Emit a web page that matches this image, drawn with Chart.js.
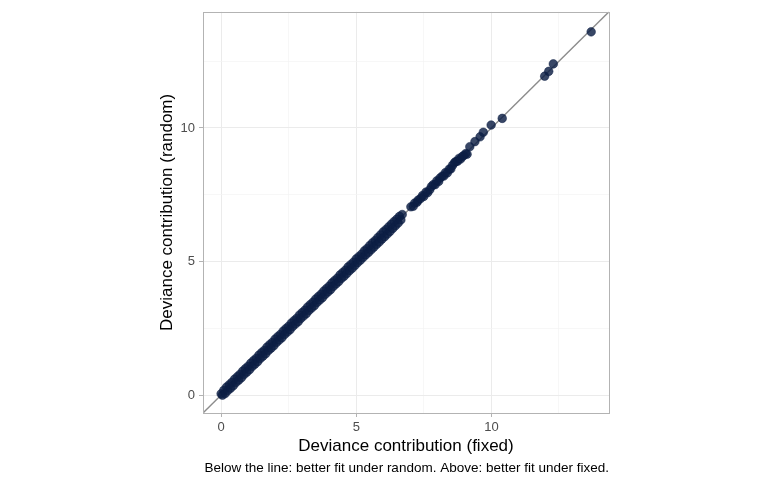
<!DOCTYPE html>
<html>
<head>
<meta charset="utf-8">
<script src="https://cdn.jsdelivr.net/npm/chart.js@4.4.1/dist/chart.umd.min.js"></script>
<style>
  html, body { margin: 0; padding: 0; background: #ffffff; }
  #wrap { width: 770px; height: 484px; }
</style>
</head>
<body>
<div id="wrap"><canvas id="c" width="770" height="484"></canvas></div>
<script>
// Deviance contribution under the fixed model (x) and random model (y)
const fixedVals = [
  0.00,0.10,0.20,0.30,0.40,0.50,0.60,0.70,0.80,0.90,1.00,1.10,1.20,1.30,1.40,1.50,1.60,1.70,1.80,1.90,
  2.00,2.10,2.20,2.30,2.40,2.50,2.60,2.70,2.80,2.90,3.00,3.10,3.20,3.30,3.40,3.50,3.60,3.70,3.80,3.90,
  4.00,4.10,4.20,4.30,4.40,4.50,4.60,4.70,4.80,4.90,5.00,5.10,5.20,5.30,5.40,5.50,5.60,5.70,5.80,5.90,
  6.00,6.10,6.20,6.30,6.40,6.50,6.60,6.70,
  0.05,0.15,0.25,0.35,0.45,0.55,0.65,0.75,0.85,0.95,1.05,1.15,1.25,1.35,1.45,1.55,1.65,1.75,1.85,1.95,
  2.05,2.15,2.25,2.35,2.45,2.55,2.65,2.75,2.85,2.95,3.05,3.15,3.25,3.35,3.45,3.55,3.65,3.75,3.85,3.95,
  4.05,4.15,4.25,4.35,4.45,4.55,4.65,4.75,4.85,4.95,5.05,5.15,5.25,5.35,5.45,5.55,5.65,5.75,5.85,5.95,
  6.05,6.15,6.25,6.35,6.45,6.55,6.65,
  7.02,7.11,7.16,7.25,7.29,7.38,7.45,7.50,7.58,7.64,7.72,7.78,7.85,7.92,7.98,8.05,8.10,8.18,8.24,8.30,
  8.37,8.44,8.50,8.56,8.63,8.68,8.75,8.80,8.86,8.92,8.98,9.05,9.10,9.20,9.39,9.58,9.70,9.99,10.40,
  11.97,12.12,12.29,13.69
];
const randomVals = [
  0.05,0.18,0.30,0.39,0.48,0.60,0.69,0.78,0.90,0.99,1.08,1.20,1.29,1.38,1.50,1.59,1.68,1.80,1.89,1.98,
  2.10,2.19,2.28,2.40,2.49,2.58,2.70,2.79,2.88,3.00,3.09,3.18,3.30,3.39,3.48,3.60,3.69,3.78,3.90,3.99,
  4.08,4.20,4.29,4.38,4.50,4.59,4.68,4.80,4.89,4.98,5.10,5.19,5.28,5.40,5.49,5.60,5.70,5.79,5.90,6.00,
  6.11,6.20,6.30,6.40,6.50,6.59,6.69,6.76,
  0.00,0.06,0.17,0.26,0.35,0.47,0.56,0.65,0.77,0.86,0.95,1.07,1.16,1.25,1.37,1.46,1.55,1.67,1.76,1.85,
  1.97,2.06,2.15,2.27,2.36,2.45,2.57,2.66,2.75,2.87,2.96,3.05,3.17,3.26,3.35,3.47,3.56,3.65,3.77,3.86,
  3.95,4.07,4.16,4.25,4.37,4.45,4.55,4.66,4.75,4.85,4.96,5.05,5.15,5.25,5.34,5.44,5.54,5.64,5.73,5.84,
  5.93,6.03,6.13,6.24,6.34,6.44,6.56,
  7.05,7.07,7.19,7.22,7.30,7.36,7.47,7.44,7.60,7.58,7.69,7.81,7.88,7.88,8.02,8.00,8.13,8.20,8.20,8.33,
  8.32,8.46,8.47,8.60,8.70,8.74,8.76,8.86,8.84,8.93,8.97,9.04,9.02,9.30,9.49,9.67,9.84,10.11,10.36,
  11.94,12.12,12.40,13.60
];
const axisMin = -0.67;
const axisMax = 14.35;
const gridTicks = [0, 2.5, 5, 7.5, 10, 12.5];
const labelTicks = [0, 5, 10];
const xTitle = 'Deviance contribution (fixed)';
const yTitle = 'Deviance contribution (random)';
const caption = 'Below the line: better fit under random. Above: better fit under fixed.';

const points = fixedVals.map((v, i) => ({ x: v, y: randomVals[i] }));
const diag = [{ x: axisMin, y: axisMin }, { x: axisMax, y: axisMax }];

Chart.defaults.font.family = "'Liberation Sans', Arial, Helvetica, sans-serif";

const isMajor = v => labelTicks.includes(v);

const panelBorder = {
  id: 'panelBorder',
  afterDatasetsDraw(chart) {
    const { ctx, chartArea: a } = chart;
    ctx.save();
    ctx.strokeStyle = '#b3b3b3';
    ctx.lineWidth = 1;
    ctx.strokeRect(Math.round(a.left) + 0.5, Math.round(a.top) + 0.5,
                   Math.round(a.right - a.left), Math.round(a.bottom - a.top));
    ctx.restore();
  }
};

function axisCfg(title, isX) {
  return {
    type: 'linear',
    min: axisMin,
    max: axisMax,
    afterBuildTicks: s => { s.ticks = gridTicks.map(v => ({ value: v })); },
    afterFit: s => { if (isX) s.height = 46.9; else s.width = 53; },
    grid: {
      color: c => isMajor(c.tick.value) ? '#ebebeb' : '#f3f3f3',
      lineWidth: c => isMajor(c.tick.value) ? 1 : 0.7,
      tickColor: c => isMajor(c.tick.value) ? '#b3b3b3' : 'rgba(0,0,0,0)',
      tickLength: 4,
      drawTicks: true
    },
    border: { display: false },
    ticks: {
      autoSkip: false,
      maxRotation: 0,
      padding: isX ? 3 : 4,
      color: '#4d4d4d',
      font: { size: 13 },
      callback: v => isMajor(v) ? String(v) : ''
    },
    title: {
      display: true,
      text: title,
      color: '#000000',
      font: { size: 17 },
      padding: isX ? { top: 0, bottom: 3.5 } : { top: 7.1, bottom: 0 }
    }
  };
}

new Chart(document.getElementById('c'), {
  data: {
    datasets: [
      {
        type: 'line',
        data: diag,
        borderColor: '#8c8c8c',
        borderWidth: 1.4,
        pointRadius: 0,
        fill: false,
        order: 2
      },
      {
        type: 'scatter',
        data: points,
        backgroundColor: 'rgba(12,30,68,0.82)',
        borderColor: 'rgba(12,30,68,0.85)',
        borderWidth: 0.6,
        pointRadius: 4.3,
        order: 1
      }
    ]
  },
  options: {
    responsive: false,
    animation: false,
    layout: { padding: { left: 150, right: 161, top: 8, bottom: 0 } },
    plugins: {
      legend: { display: false },
      tooltip: { enabled: false },
      title: {
        display: true,
        text: caption,
        position: 'bottom',
        align: 'end',
        color: '#000000',
        font: { size: 13.5, weight: 'normal' },
        padding: { top: 0, bottom: 7.9 }
      }
    },
    scales: {
      x: axisCfg(xTitle, true),
      y: axisCfg(yTitle, false)
    }
  },
  plugins: [panelBorder]
});
</script>
</body>
</html>
